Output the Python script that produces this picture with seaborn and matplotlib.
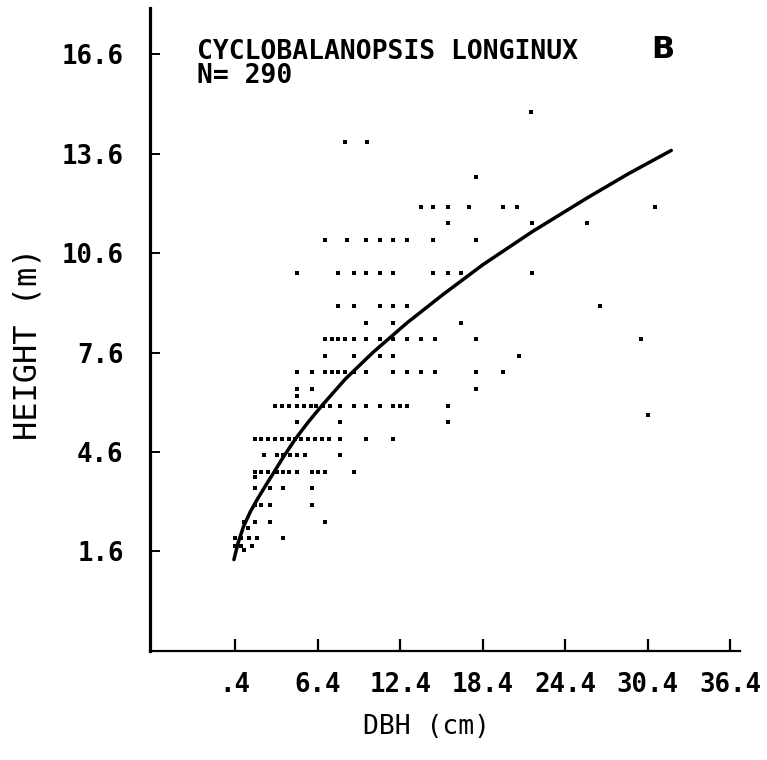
import matplotlib
matplotlib.use("Agg")
import matplotlib.pyplot as plt
import seaborn as sns

# ---- data ----
# scatter points, one line per height row (m)
dbh_cm = [
    21.9,
    8.4, 10.0,
    17.9,
    13.9, 14.8, 15.9, 17.4, 19.9, 20.9, 30.9,
    15.9, 22.0, 26.0,
    6.9, 8.5, 9.9, 10.9, 11.9, 12.9, 14.8, 17.9,
    4.9, 7.9, 9.0, 9.9, 10.9, 11.9, 14.8, 15.9, 16.8, 22.0,
    7.9, 9.0, 10.9, 11.9, 12.9, 26.9,
    9.9, 11.9, 16.8,
    6.9, 7.4, 7.9, 8.4, 9.0, 9.9, 10.9, 11.9, 12.9, 13.9, 14.9, 17.9, 29.9,
    6.9, 9.0, 10.9, 11.9, 21.0,
    4.9, 6.0, 6.9, 7.4, 7.9, 8.4, 9.0, 9.9, 11.9, 12.9, 13.9, 14.9, 17.9, 19.9,
    4.9, 6.0, 17.9,
    4.9,
    3.3, 3.8, 4.3, 4.9, 5.4, 5.9, 6.3, 6.8, 7.3, 8.0, 9.0, 9.9, 10.9, 11.9, 12.4, 12.9, 15.9,
    30.4,
    4.9, 8.0, 15.9,
    1.85, 2.3, 2.8, 3.3, 3.8, 4.3, 4.75, 5.2, 5.7, 6.2, 6.7, 7.2, 8.0, 9.9, 11.9,
    2.5, 3.4, 3.9, 4.4, 4.9, 5.5, 8.0,
    1.85, 2.3, 2.8, 3.4, 3.9, 4.3, 4.9, 6.0, 6.4, 6.9, 9.0,
    1.85,
    1.85, 2.95, 3.9, 6.0,
    1.85, 2.3, 2.95, 6.0,
    1.0, 1.85, 2.95, 6.9,
    1.3,
    0.4, 0.8, 1.4, 2.0, 3.9,
    0.4, 0.8, 1.6,
    1.0,
]
height_m = (
    [14.85]
    + [13.95] * 2
    + [12.9]
    + [12.0] * 7
    + [11.5] * 3
    + [11.0] * 8
    + [10.0] * 10
    + [9.0] * 6
    + [8.5] * 3
    + [8.0] * 13
    + [7.5] * 5
    + [7.0] * 14
    + [6.5] * 3
    + [6.3]
    + [6.0] * 17
    + [5.7]
    + [5.5] * 3
    + [5.0] * 15
    + [4.5] * 7
    + [4.0] * 11
    + [3.85]
    + [3.5] * 4
    + [3.0] * 4
    + [2.5] * 4
    + [2.3]
    + [2.0] * 5
    + [1.77] * 3
    + [1.65]
)

# fitted height-diameter curve
curve_dbh = [0.3, 0.6, 1.0, 1.5, 2.0, 2.6, 3.2, 3.9, 4.75, 5.7, 6.7, 8.4,
             10.4, 12.9, 15.5, 18.4, 22.0, 26.0, 29.0, 32.1]
curve_height = [1.35, 1.85, 2.35, 2.8, 3.17, 3.58, 3.98, 4.45, 4.98, 5.5,
                6.0, 6.8, 7.6, 8.5, 9.35, 10.25, 11.25, 12.27, 13.0, 13.7]

x_ticks = [0.4, 6.4, 12.4, 18.4, 24.4, 30.4, 36.4]
x_tick_labels = [".4", "6.4", "12.4", "18.4", "24.4", "30.4", "36.4"]
y_ticks = [1.6, 4.6, 7.6, 10.6, 13.6, 16.6]
y_tick_labels = ["1.6", "4.6", "7.6", "10.6", "13.6", "16.6"]

# ---- plot ----
sns.set_style("ticks")
plt.rcParams["font.family"] = ["DejaVu Sans Mono", "DejaVu Sans"]
plt.rcParams["text.color"] = "black"
plt.rcParams["axes.labelcolor"] = "black"

fig = plt.figure(figsize=(7.67, 7.6), dpi=100)
ax = fig.add_axes([0.1956, 0.1438, 0.7692, 0.8457])

sns.scatterplot(x=dbh_cm, y=height_m, marker="s", s=6, color="black",
                linewidth=0, ax=ax)
sns.lineplot(x=curve_dbh, y=curve_height, color="black", linewidth=2.5,
             estimator=None, sort=False, ax=ax)

ax.set_xlim(-5.8, 37.1)
ax.set_ylim(-1.4, 18.0)
ax.set_xticks(x_ticks)
ax.set_xticklabels(x_tick_labels, fontweight="bold")
ax.set_yticks(y_ticks)
ax.set_yticklabels(y_tick_labels, fontweight="bold")

ax.tick_params(axis="x", direction="in", length=9, width=1.6, pad=15,
               labelsize=18.5, colors="black")
ax.tick_params(axis="y", direction="in", length=7, width=1.4, pad=19,
               labelsize=18.5, colors="black")

sns.despine(ax=ax)
ax.spines["left"].set_linewidth(2.3)
ax.spines["bottom"].set_linewidth(1.6)
ax.spines["left"].set_color("black")
ax.spines["bottom"].set_color("black")

ax.set_xlabel("DBH (cm)", fontsize=19)
ax.set_ylabel("HEIGHT (m)", fontsize=23)
ax.xaxis.set_label_coords(0.469, -0.099)
ax.yaxis.set_label_coords(-0.18, 0.477)

ax.text(0.0797, 0.9207, "CYCLOBALANOPSIS LONGINUX", transform=ax.transAxes,
        fontsize=19, fontweight="bold", va="baseline", ha="left")
ax.text(0.0797, 0.8834, "N= 290", transform=ax.transAxes,
        fontsize=19, fontweight="bold", va="baseline", ha="left")
ax.text(0.849, 0.922, "B", transform=ax.transAxes, fontsize=22,
        fontweight="bold", family="DejaVu Sans", va="baseline", ha="left")

fig.savefig("out.png", dpi=100, facecolor="white")
